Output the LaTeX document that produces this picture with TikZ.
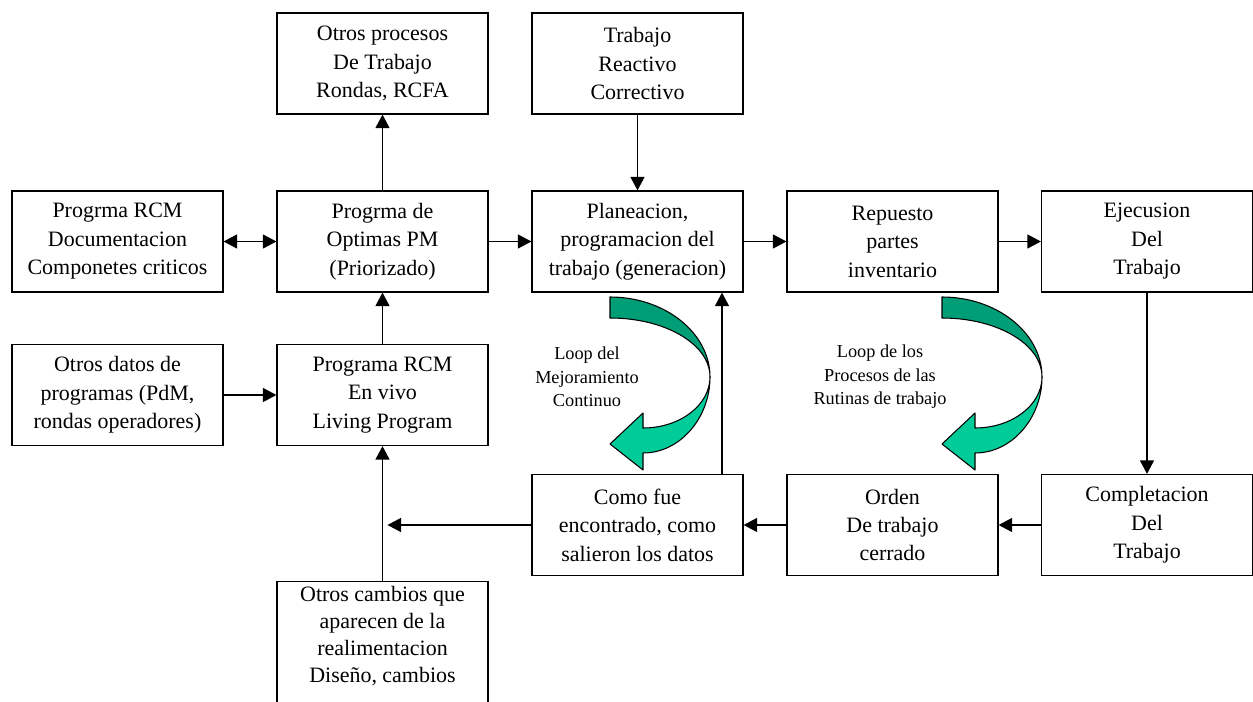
\documentclass[tikz,border=0pt]{standalone}
\usepackage{fontspec}
\setmainfont{Liberation Serif}
\newfontfamily\boxfont{Liberation Serif}
\usetikzlibrary{arrows.meta, positioning}
\definecolor{loopdark}{RGB}{0,158,118}
\definecolor{looplight}{RGB}{0,204,153}
\tikzset{
    >={Triangle[length=2.7mm, width=2.8mm]},
    box/.style={draw, line width=0.7pt, minimum width=4.22cm, minimum height=2.02cm,
        align=center, inner sep=0pt, font=\boxfont\fontsize{12.5}{16.2}\selectfont},
    flow/.style={->, line width=0.7pt},
    loopnote/.style={align=center, font=\boxfont\fontsize{10.4}{13.4}\selectfont},
    ribbonback/.style={fill=loopdark, draw=black, line width=0.6pt, line join=round},
    ribbonfront/.style={fill=looplight, draw=black, line width=0.6pt, line join=round},
}

\begin{document}
\begin{tikzpicture}[x=0.02cm, y=-0.02cm]
    \useasboundingbox (0,0) rectangle (1253,702);
    % boxes
    \node[box] (procesos) at (382.5,63.5) {Otros procesos\\De Trabajo\\Rondas, RCFA};
    \node[box] (reactivo) at (637.5,63.5) {Trabajo\\Reactivo\\Correctivo};
    \node[box] (rcmdoc) at (117.5,241.5) {Progrma RCM\\Documentacion\\Componetes criticos};
    \node[box] (optimas) at (382.5,241.5) {Progrma de\\Optimas PM\\(Priorizado)};
    \node[box] (planeacion) at (637.5,241.5) {Planeacion,\\programacion del\\trabajo (generacion)};
    \node[box] (repuesto) at (892.5,241.5) {Repuesto\\partes\\inventario};
    \node[box] (ejecusion) at (1147,241.5) {Ejecusion\\Del\\Trabajo};
    \node[box] (otrosdatos) at (117.5,395) {Otros datos de\\programas (PdM,\\rondas operadores)};
    \node[box] (living) at (382.5,395) {Programa RCM\\En vivo\\Living Program};
    \node[box] (comofue) at (637.5,525) {Como fue\\encontrado, como\\salieron los datos};
    \node[box] (orden) at (892.5,525) {Orden\\De trabajo\\cerrado};
    \node[box] (completacion) at (1147,525) {Completacion\\Del\\Trabajo};
    \node[box, anchor=north, minimum height=2.6cm] (cambios) at (382.5,581) {};
    \node[align=center, inner sep=0pt, anchor=north, font=\boxfont\fontsize{12.5}{15.4}\selectfont]
        (cambiostxt) at ([yshift=-0.1cm]cambios.north)
        {Otros cambios que\\aparecen de la\\realimentacion\\Diseño, cambios};
    % connectors
    \draw[flow] (optimas) -- (procesos);
    \draw[flow] (reactivo) -- (planeacion);
    \draw[flow, <->] (rcmdoc) -- (optimas);
    \draw[flow] (optimas) -- (planeacion);
    \draw[flow] (planeacion) -- (repuesto);
    \draw[flow] (repuesto) -- (ejecusion);
    \draw[flow] (ejecusion) -- (completacion);
    \draw[flow] (completacion) -- (orden);
    \draw[flow] (orden) -- (comofue);
    \draw[flow] (otrosdatos) -- (living);
    \draw[flow] (living) -- (optimas);
    \draw[flow] (cambios) -- (living);
    \draw[flow] (comofue) -- ([xshift=0.1cm]comofue -| living);
    \draw[flow] ([xshift=1.69cm]comofue.north) -- ([xshift=1.69cm]planeacion.south);
    % curved loop arrows
    \foreach \dx in {0,332} {
        \begin{scope}[shift={(\dx,0)}]
            \filldraw[ribbonback] (610,297) .. controls (665,297) and (710,333) .. (710,377)
                .. controls (710,344) and (665,318) .. (610,318) -- cycle;
            \filldraw[ribbonfront] (710,377) .. controls (710,418) and (680,453) .. (643,453)
                -- (643,470) -- (610,444) -- (643,413) -- (643,428)
                .. controls (680,428) and (710,405) .. (710,377) -- cycle;
        \end{scope}
    }
    \node[loopnote] (loopmejora) at (587,377) {Loop del\\Mejoramiento\\Continuo};
    \node[loopnote] (looprutinas) at (880,377) {Loop de los\\Procesos de las\\Rutinas de trabajo};
\end{tikzpicture}
\end{document}
